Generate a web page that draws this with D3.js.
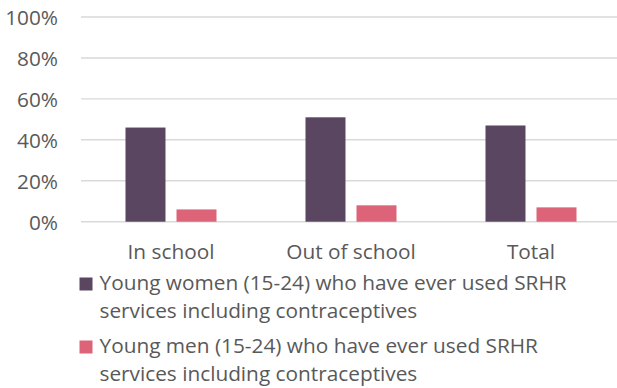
<!DOCTYPE html>
<html>
<head>
<meta charset="utf-8">
<script src="https://cdn.jsdelivr.net/npm/d3@7"></script>
<style>
  html, body { margin: 0; padding: 0; background: #fff; }
  svg text { font-family: "Open Sans", Lato, sans-serif; fill: #595959; }
</style>
</head>
<body>
<svg id="chart" width="617" height="388"></svg>
<script>
// Share of young people who have ever used SRHR services, by schooling status
const categories = ["In school", "Out of school", "Total"];
const seriesNames = [
  ["Young women (15-24) who have ever used SRHR", "services including contraceptives"],
  ["Young men (15-24) who have ever used SRHR", "services including contraceptives"]
];
const womenValues = [46, 51, 47];
const menValues = [6, 8, 7];
const yTicks = [0, 20, 40, 60, 80, 100];
const colors = ["#5a4661", "#dd6378"];

const svg = d3.select("#chart");
const plot = { left: 81, right: 621, top: 17, bottom: 221.7 };
const fontSize = 20.8;

const x = d3.scaleBand().domain(categories).range([plot.left, plot.right]);
const inner = d3.scaleBand().domain([0, 1]).range([x.bandwidth() / 2 - 45.5, x.bandwidth() / 2 + 45.5]).paddingInner(0.216);
const y = d3.scaleLinear().domain([0, 100]).range([plot.bottom, plot.top]);

// gridlines
svg.append("g").selectAll("line").data(yTicks).join("line")
  .attr("x1", plot.left).attr("x2", plot.right)
  .attr("y1", d => y(d)).attr("y2", d => y(d))
  .attr("stroke", "#d9d9d9").attr("stroke-width", 1.4);

// y axis labels
const yAxis = d3.axisLeft(y).tickValues(yTicks).tickFormat(d => d + "%").tickSize(0).tickPadding(0);
const yg = svg.append("g").attr("transform", "translate(58,0)").call(yAxis);
yg.select(".domain").remove();
yg.selectAll("text").attr("font-size", fontSize).attr("font-family", null).attr("dy", "0.36em");

// bars
const series = [womenValues, menValues];
const groups = svg.append("g").selectAll("g").data(categories).join("g")
  .attr("transform", d => `translate(${x(d)},0)`);
groups.selectAll("rect").data((c, i) => series.map((s, k) => ({ k, v: s[i] }))).join("rect")
  .attr("x", d => inner(d.k))
  .attr("width", inner.bandwidth())
  .attr("y", d => y(d.v))
  .attr("height", d => y(0) - y(d.v))
  .attr("fill", d => colors[d.k]);

// category labels
svg.append("g").selectAll("text").data(categories).join("text")
  .attr("x", d => x(d) + x.bandwidth() / 2)
  .attr("y", 259)
  .attr("text-anchor", "middle")
  .attr("font-size", fontSize)
  .text(d => d);

// legend
const legend = svg.append("g");
const legendTops = [290, 353];
seriesNames.forEach((lines, k) => {
  legend.append("rect")
    .attr("x", 79.5).attr("y", legendTops[k] - 12.5)
    .attr("width", 13).attr("height", 13)
    .attr("fill", colors[k]);
  lines.forEach((t, j) => {
    legend.append("text")
      .attr("x", 99.5).attr("y", legendTops[k] + j * 28)
      .attr("font-size", fontSize)
      .text(t);
  });
});
</script>
</body>
</html>
